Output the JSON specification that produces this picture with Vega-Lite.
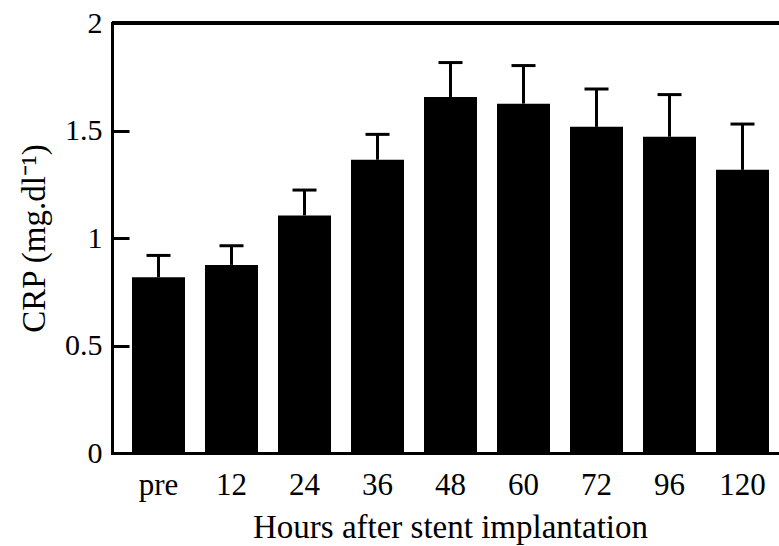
{
  "$schema": "https://vega.github.io/schema/vega-lite/v6.json",
  "autosize": {"type": "none"},
  "width": 667,
  "height": 430,
  "padding": {"left": 112, "top": 23, "right": 0, "bottom": 93},
  "background": "white",
  "config": {
    "view": {"stroke": null},
    "font": "Liberation Serif",
    "axis": {
      "labelFont": "Liberation Serif",
      "titleFont": "Liberation Serif",
      "labelColor": "black",
      "titleColor": "black",
      "titleFontWeight": "normal",
      "domainColor": "black",
      "domainWidth": 3,
      "domainCap": "square",
      "grid": false
    }
  },
  "data": {
    "values": [
      {"time": "pre", "crp": 0.817, "upper": 0.919},
      {"time": "12", "crp": 0.875, "upper": 0.964},
      {"time": "24", "crp": 1.105, "upper": 1.223},
      {"time": "36", "crp": 1.364, "upper": 1.482},
      {"time": "48", "crp": 1.656, "upper": 1.816},
      {"time": "60", "crp": 1.625, "upper": 1.802},
      {"time": "72", "crp": 1.517, "upper": 1.693},
      {"time": "96", "crp": 1.471, "upper": 1.667},
      {"time": "120", "crp": 1.317, "upper": 1.530}
    ]
  },
  "encoding": {
    "x": {
      "field": "time",
      "type": "ordinal",
      "sort": null,
      "scale": {"paddingInner": 0.27397, "paddingOuter": 0.20548, "align": 0.6667},
      "axis": {
        "title": "Hours after stent implantation",
        "titleFontSize": 33,
        "titleBaseline": "alphabetic",
        "titleY": 84,
        "titleX": 338,
        "labelFontSize": 31,
        "labelAngle": 0,
        "labelBaseline": "alphabetic",
        "labelPadding": 41,
        "ticks": false
      }
    }
  },
  "layer": [
    {
      "mark": {"type": "bar", "color": "black"},
      "encoding": {
        "y": {
          "field": "crp",
          "type": "quantitative",
          "scale": {"domain": [0, 2], "nice": false},
          "axis": {
            "orient": "left",
            "title": "CRP (mg.dl⁻¹)",
            "titleFontSize": 33,
            "titleAngle": -90,
            "titleBaseline": "alphabetic",
            "titleAlign": "center",
            "titleX": -68,
            "titleY": 215,
            "values": [0, 0.5, 1, 1.5, 2],
            "labelExpr": "toString(datum.value)",
            "labelFontSize": 30,
            "labelAlign": "right",
            "labelBaseline": "middle",
            "labelPadding": 10,
            "ticks": false
          }
        }
      }
    },
    {
      "mark": {"type": "rule", "color": "black", "strokeWidth": 3},
      "encoding": {
        "y": {
          "field": "crp",
          "type": "quantitative",
          "scale": {"domain": [0, 2], "nice": false},
          "axis": {
            "orient": "right",
            "offset": -666,
            "title": null,
            "values": [0.5, 1, 1.5],
            "labels": false,
            "domain": false,
            "ticks": true,
            "tickSize": 16,
            "tickWidth": 3,
            "tickColor": "black"
          }
        },
        "y2": {"field": "upper"}
      }
    },
    {
      "mark": {"type": "tick", "color": "black", "size": 24, "thickness": 3, "opacity": 1},
      "encoding": {
        "y": {"field": "upper", "type": "quantitative", "scale": {"domain": [0, 2], "nice": false}, "axis": null}
      }
    },
    {
      "mark": {"type": "rule", "color": "black", "strokeWidth": 3},
      "encoding": {
        "y": {"datum": 2, "scale": {"domain": [0, 2], "nice": false}, "axis": null},
        "x": null
      }
    }
  ],
  "resolve": {"scale": {"y": "independent"}, "axis": {"y": "independent"}}
}
